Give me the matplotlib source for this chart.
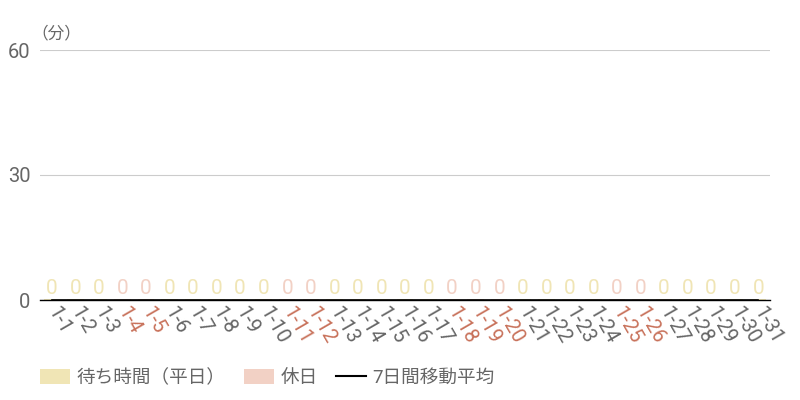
import matplotlib.pyplot as plt
from matplotlib.patches import Patch
from matplotlib.lines import Line2D

plt.rcParams['font.family'] = ['Roboto', 'Noto Sans CJK JP', 'DejaVu Sans']

days = ['1-%d' % d for d in range(1, 32)]
holidays = ['1-4', '1-5', '1-11', '1-12', '1-18', '1-19', '1-20', '1-25', '1-26']
wait_minutes = [0] * 31
moving_avg = [0] * 31

weekday_color = '#f0e5b5'
holiday_color = '#f2d1c5'
holiday_text = '#c8715a'
text_gray = '#666666'

fig = plt.figure(figsize=(8, 4), dpi=100)
ax = fig.add_axes([0.05, 0.25, 0.9125, 0.625])

colors = [holiday_color if d in holidays else weekday_color for d in days]
x = list(range(len(days)))
# zero-height bars still show a thin stroke in the reference
ax.bar(x, [v + 0.25 for v in wait_minutes], width=0.7, color=colors, zorder=2)
for i, v in enumerate(wait_minutes):
    ax.text(i, v + 0.4, str(v), ha='center', va='bottom', fontsize=15,
            color=colors[i], zorder=3)
ax.plot(x, moving_avg, color='black', linewidth=1.2, zorder=4)

ax.set_xlim(-0.5, len(days) - 0.5)
ax.set_ylim(0, 60)
ax.set_yticks([0, 30, 60])
ax.grid(axis='y', color='#cccccc', linewidth=0.8, zorder=0)
for s in ['top', 'right', 'left']:
    ax.spines[s].set_visible(False)
ax.spines['bottom'].set_color('black')
ax.spines['bottom'].set_linewidth(1)
ax.tick_params(axis='y', length=0, labelsize=14.5, labelcolor=text_gray, pad=7)
ax.tick_params(axis='x', length=0, pad=6)
ax.set_xticks(x)
ax.set_xticklabels(days, rotation=-60, ha='left', va='center',
                   rotation_mode='anchor', fontsize=14.5)
for lab, d in zip(ax.get_xticklabels(), days):
    lab.set_color(holiday_text if d in holidays else text_gray)

fig.text(0.039, 0.917, '（分）', fontsize=12, color=text_gray, ha='left', va='center')

handles = [Patch(facecolor=weekday_color, edgecolor='none'),
           Patch(facecolor=holiday_color, edgecolor='none'),
           Line2D([], [], color='black', linewidth=1.5)]
labels = ['待ち時間（平日）', '休日', '7日間移動平均']
leg = fig.legend(handles, labels, loc='center left', bbox_to_anchor=(0.05, 0.055),
                 ncol=3, frameon=False, fontsize=13.4, handlelength=1.6,
                 handleheight=0.8, columnspacing=1.0, handletextpad=0.35,
                 borderpad=0, borderaxespad=0)
for t in leg.get_texts():
    t.set_color(text_gray)

fig.savefig('out.png', dpi=100)
